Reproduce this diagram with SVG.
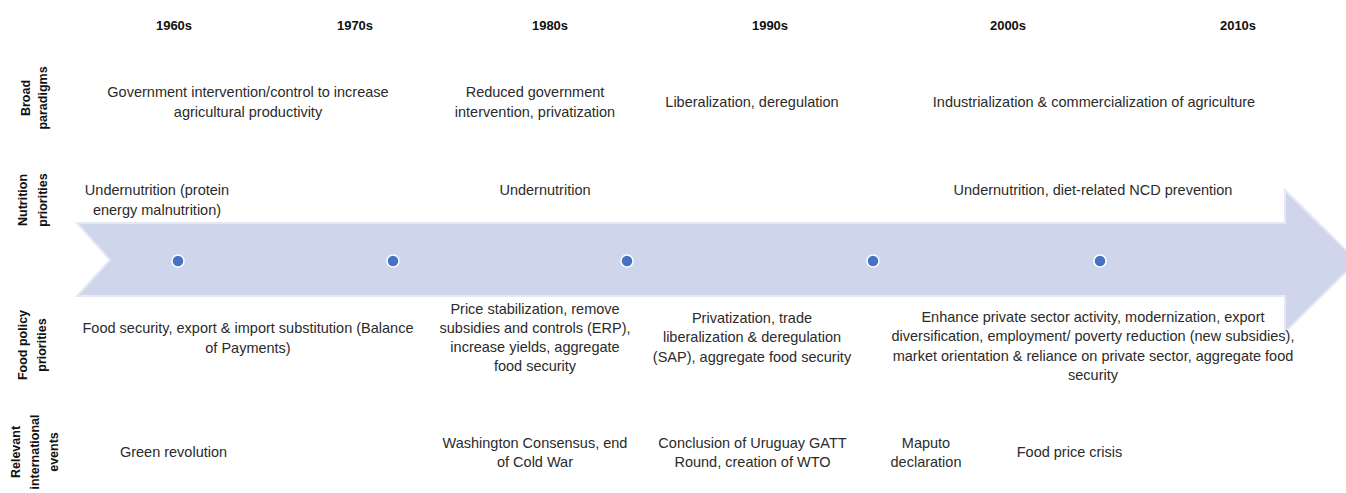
<svg xmlns="http://www.w3.org/2000/svg" width="1346" height="493" viewBox="0 0 1346 493">
<style>
.yr{font-family:"Liberation Sans",Arial,sans-serif;font-size:13px;font-weight:bold;fill:#111;text-anchor:middle}
.rl{font-family:"Liberation Sans",Arial,sans-serif;font-size:12.5px;font-weight:bold;fill:#111;text-anchor:middle}
.tx{font-family:"Liberation Sans",Arial,sans-serif;font-size:14.5px;fill:#2b2b2b;text-anchor:middle}
.dot{fill:#4472C4;stroke:#ffffff;stroke-width:1.5}
</style>
<rect width="1346" height="493" fill="#ffffff"/>
<g id="timeline-arrow">
<polygon points="77,223 1285,223 1285,190 1357,261 1285,332 1285,296 77,296 110,260" fill="#CFD5EA" stroke="#E6E9F4" stroke-width="2"/>
</g>
<g id="dots">
<circle class="dot" cx="178" cy="261" r="6"/>
<circle class="dot" cx="393" cy="261" r="6"/>
<circle class="dot" cx="627" cy="261" r="6"/>
<circle class="dot" cx="873" cy="261" r="6"/>
<circle class="dot" cx="1100" cy="261" r="6"/>
</g>
<g id="years">
<text class="yr" x="174" y="30">1960s</text>
<text class="yr" x="355" y="30">1970s</text>
<text class="yr" x="550" y="30">1980s</text>
<text class="yr" x="770" y="30">1990s</text>
<text class="yr" x="1008" y="30">2000s</text>
<text class="yr" x="1238" y="30">2010s</text>
</g>
<g id="row-labels">
<g id="label-broad" transform="translate(0,98) rotate(-90)">
<text class="rl" x="0" y="29.5">Broad</text>
<text class="rl" x="0" y="47">paradigms</text>
</g>
<g id="label-nutrition" transform="translate(0,200) rotate(-90)">
<text class="rl" x="0" y="26.5">Nutrition</text>
<text class="rl" x="0" y="46.5">priorities</text>
</g>
<g id="label-food" transform="translate(0,345) rotate(-90)">
<text class="rl" x="0" y="27">Food policy</text>
<text class="rl" x="0" y="46">priorities</text>
</g>
<g id="label-events" transform="translate(0,452) rotate(-90)">
<text class="rl" x="0" y="19.5">Relevant</text>
<text class="rl" x="0" y="38.5">international</text>
<text class="rl" x="0" y="58">events</text>
</g>
</g>
<g id="broad-paradigms">
<text class="tx" x="248" y="96.5">Government intervention/control to increase</text>
<text class="tx" x="248" y="116.5">agricultural productivity</text>
<text class="tx" x="535" y="96.5">Reduced government</text>
<text class="tx" x="535" y="116.5">intervention, privatization</text>
<text class="tx" x="752" y="106.5">Liberalization, deregulation</text>
<text class="tx" x="1094" y="106.5">Industrialization &amp; commercialization of agriculture</text>
</g>
<g id="nutrition-priorities">
<text class="tx" x="157" y="195">Undernutrition (protein</text>
<text class="tx" x="157" y="214.5">energy malnutrition)</text>
<text class="tx" x="545" y="195">Undernutrition</text>
<text class="tx" x="1093" y="195">Undernutrition, diet-related NCD prevention</text>
</g>
<g id="food-policy-priorities">
<text class="tx" x="248" y="332.5">Food security, export &amp; import substitution (Balance</text>
<text class="tx" x="248" y="352.5">of Payments)</text>
<text class="tx" x="535" y="313.5">Price stabilization, remove</text>
<text class="tx" x="535" y="332.5">subsidies and controls (ERP),</text>
<text class="tx" x="535" y="351.5">increase yields, aggregate</text>
<text class="tx" x="535" y="370.5">food security</text>
<text class="tx" x="752" y="322.5">Privatization, trade</text>
<text class="tx" x="752" y="342">liberalization &amp; deregulation</text>
<text class="tx" x="752" y="361.5">(SAP), aggregate food security</text>
<text class="tx" x="1093" y="321.5">Enhance private sector activity, modernization, export</text>
<text class="tx" x="1093" y="341">diversification, employment/ poverty reduction (new subsidies),</text>
<text class="tx" x="1093" y="360.5">market orientation &amp; reliance on private sector, aggregate food</text>
<text class="tx" x="1093" y="380">security</text>
</g>
<g id="international-events">
<text class="tx" x="173.5" y="456.5">Green revolution</text>
<text class="tx" x="535" y="447.5">Washington Consensus, end</text>
<text class="tx" x="535" y="466.5">of Cold War</text>
<text class="tx" x="752.5" y="447.5">Conclusion of Uruguay GATT</text>
<text class="tx" x="752.5" y="466.5">Round, creation of WTO</text>
<text class="tx" x="926" y="447.5">Maputo</text>
<text class="tx" x="926" y="466.5">declaration</text>
<text class="tx" x="1069.5" y="456.5">Food price crisis</text>
</g>
</svg>
